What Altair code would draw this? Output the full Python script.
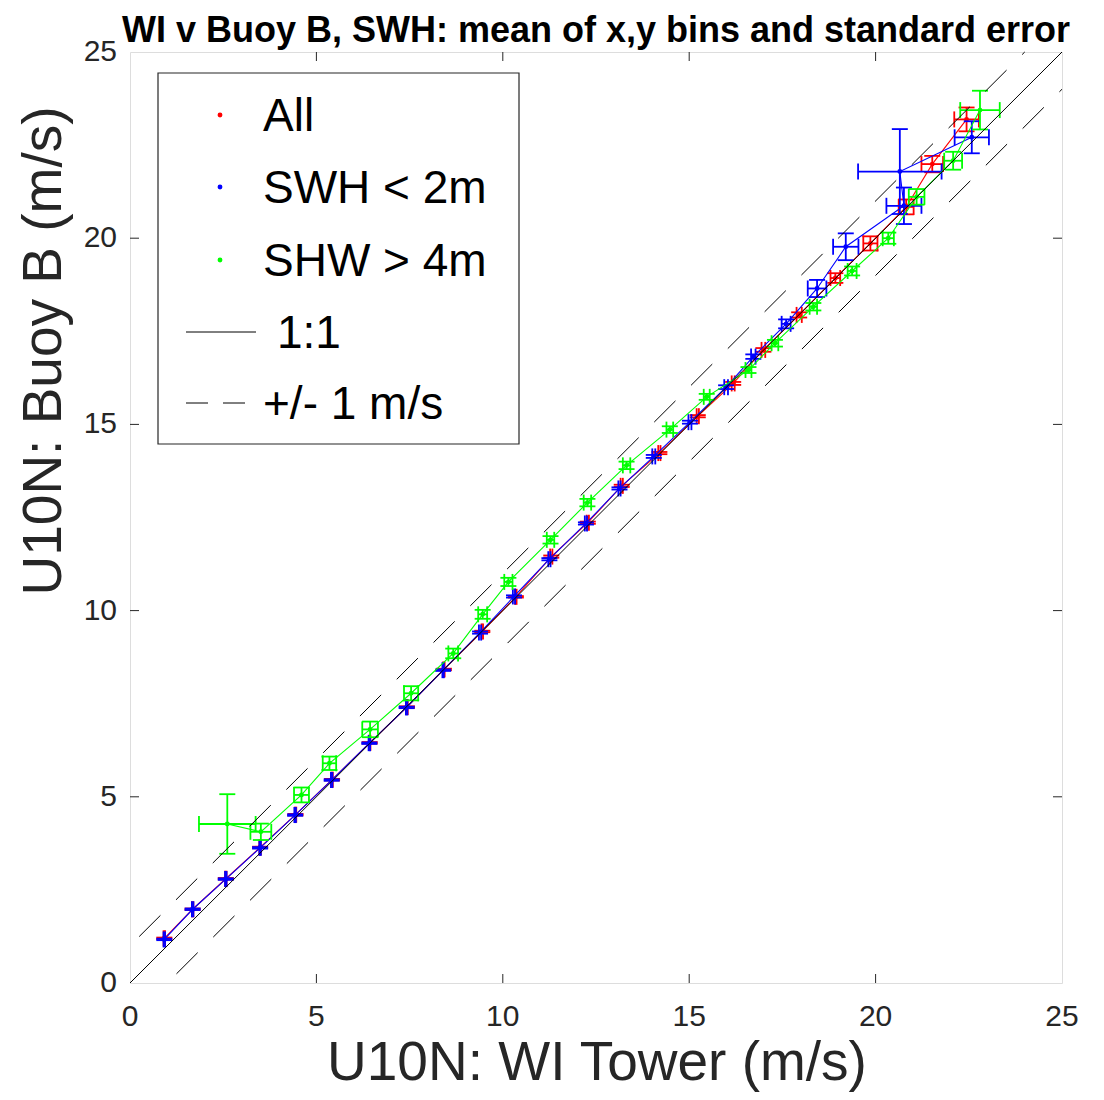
import altair as alt
import pandas as pd

# ---------------- data ----------------
tick_values = [0, 5, 10, 15, 20, 25]
tick_labels = ["0", "5", "10", "15", "20", "25"]
inner_ticks = [5, 10, 15, 20]

all_x = [0.92, 1.68, 2.57, 3.49, 4.44, 5.42, 6.43, 7.43, 8.42, 9.45, 10.35, 11.30,
         12.28, 13.19, 14.20, 15.23, 16.18, 16.99, 17.95, 18.92, 19.86, 20.82, 21.52, 22.44]
all_y = [1.20, 1.98, 2.80, 3.64, 4.52, 5.46, 6.45, 7.41, 8.42, 9.44, 10.37, 11.45,
         12.36, 13.35, 14.23, 15.22, 16.10, 17.00, 17.94, 18.93, 19.86, 20.84, 21.99, 23.19]
all_xe = [0.02, 0.02, 0.02, 0.02, 0.02, 0.02, 0.02, 0.02, 0.02, 0.02, 0.02, 0.03,
          0.03, 0.03, 0.03, 0.03, 0.04, 0.05, 0.07, 0.13, 0.19, 0.20, 0.29, 0.33]
all_ye = [0.02, 0.02, 0.02, 0.02, 0.02, 0.02, 0.02, 0.02, 0.02, 0.02, 0.02, 0.03,
          0.03, 0.03, 0.03, 0.03, 0.04, 0.05, 0.07, 0.13, 0.19, 0.20, 0.22, 0.32]

low_x = [0.92, 1.68, 2.57, 3.49, 4.43, 5.41, 6.42, 7.42, 8.40, 9.39, 10.30, 11.25,
         12.23, 13.13, 14.05, 15.02, 15.99, 16.72, 17.60, 18.43, 19.20, 20.76, 20.65, 22.58]
low_y = [1.17, 1.98, 2.79, 3.63, 4.51, 5.45, 6.44, 7.40, 8.40, 9.41, 10.38, 11.38,
         12.34, 13.28, 14.14, 15.06, 16.00, 16.82, 17.70, 18.65, 19.77, 20.87, 21.79, 22.71]
low_xe = [0.02, 0.02, 0.02, 0.02, 0.02, 0.02, 0.02, 0.02, 0.02, 0.03, 0.03, 0.03,
          0.03, 0.03, 0.04, 0.04, 0.05, 0.06, 0.12, 0.25, 0.34, 0.47, 1.12, 0.46]
low_ye = [0.02, 0.02, 0.02, 0.02, 0.02, 0.02, 0.02, 0.02, 0.02, 0.03, 0.03, 0.03,
          0.03, 0.03, 0.04, 0.04, 0.05, 0.06, 0.12, 0.23, 0.36, 0.49, 1.14, 0.43]

high_x = [2.61, 3.51, 4.60, 5.35, 6.44, 7.54, 8.67, 9.46, 10.15, 11.28, 12.27, 13.32,
          14.48, 15.47, 16.59, 17.30, 18.33, 19.37, 20.34, 21.10, 22.08, 22.80]
high_y = [4.27, 4.06, 5.05, 5.90, 6.81, 7.78, 8.85, 9.90, 10.77, 11.90, 12.90, 13.90,
          14.86, 15.74, 16.46, 17.18, 18.16, 19.12, 20.00, 21.11, 22.08, 23.44]
high_xe = [0.76, 0.28, 0.20, 0.18, 0.21, 0.19, 0.13, 0.12, 0.11, 0.10, 0.10, 0.10,
           0.09, 0.08, 0.08, 0.09, 0.10, 0.12, 0.15, 0.21, 0.24, 0.53]
high_ye = [0.80, 0.22, 0.20, 0.18, 0.21, 0.19, 0.13, 0.12, 0.11, 0.10, 0.10, 0.10,
           0.09, 0.08, 0.08, 0.09, 0.10, 0.12, 0.15, 0.21, 0.24, 0.52]

one_to_one_x = [0, 25]
one_to_one_y = [0, 25]
upper_x = [0, 24]
upper_y = [1, 25]
lower_x = [1, 25]
lower_y = [0, 24]

legend_labels = ["All", "SWH < 2m", "SHW > 4m", "1:1", "+/- 1 m/s"]
legend_colors = ["#ff0000", "#0000ff", "#00ff00"]

title_text = "WI v Buoy B, SWH: mean of x,y bins and standard error"
x_title = "U10N: WI Tower (m/s)"
y_title = "U10N: Buoy B (m/s)"

# ---------------- styling ----------------
FONT = "Liberation Sans"
AX = "#262626"
W, H = 932, 931
xscale = alt.Scale(domain=[0, 25], nice=False, zero=False)
yscale = alt.Scale(domain=[0, 25], nice=False, zero=False)


def X(field):
    return alt.X(field, type="quantitative", scale=xscale, axis=None, title=None)


def Y(field):
    return alt.Y(field, type="quantitative", scale=yscale, axis=None, title=None)


def series_layers(xs, ys, xes, yes, color):
    df = pd.DataFrame({"x": xs, "y": ys, "xe": xes, "ye": yes})
    df["i"] = range(len(df))
    df["xlo"] = df["x"] - df["xe"]
    df["xhi"] = df["x"] + df["xe"]
    df["ylo"] = df["y"] - df["ye"]
    df["yhi"] = df["y"] + df["ye"]
    base = alt.Chart(df)
    sw = 1.8
    line = base.mark_line(color=color, strokeWidth=1.1).encode(
        x=X("x"), y=Y("y"), order="i:Q")
    hbar = base.mark_rule(color=color, strokeWidth=sw).encode(
        x=X("xlo"), x2="xhi", y=Y("y"))
    vbar = base.mark_rule(color=color, strokeWidth=sw).encode(
        x=X("x"), y=Y("ylo"), y2="yhi")
    capl = base.mark_tick(orient="vertical", size=16, thickness=sw, color=color, opacity=1).encode(
        x=X("xlo"), y=Y("y"))
    capr = base.mark_tick(orient="vertical", size=16, thickness=sw, color=color, opacity=1).encode(
        x=X("xhi"), y=Y("y"))
    capb = base.mark_tick(orient="horizontal", size=16, thickness=sw, color=color, opacity=1).encode(
        x=X("x"), y=Y("ylo"))
    capt = base.mark_tick(orient="horizontal", size=16, thickness=sw, color=color, opacity=1).encode(
        x=X("x"), y=Y("yhi"))
    dots = base.mark_circle(size=24, color=color, opacity=1).encode(x=X("x"), y=Y("y"))
    return [line, hbar, vbar, capl, capr, capb, capt, dots]


# tick labels (MATLAB style axes drawn by hand)
lab_df = pd.DataFrame({"t": tick_values, "lab": tick_labels})
tick_text = [
    alt.Chart(lab_df).mark_text(font=FONT, fontSize=30, color=AX, align="center",
                                baseline="top").encode(
        x=X("t"), y=alt.value(H + 19), text="lab:N"),
    alt.Chart(lab_df).mark_text(font=FONT, fontSize=30, color=AX, align="right",
                                baseline="middle").encode(
        y=Y("t"), x=alt.value(-13), text="lab:N"),
]

# inward ticks on all four sides
tdf = pd.DataFrame({"t": inner_ticks})
tk = dict(color=AX, strokeWidth=1)
ticks = [
    alt.Chart(tdf).mark_rule(**tk).encode(x=X("t"), y=alt.value(H), y2=alt.value(H - 9)),
    alt.Chart(tdf).mark_rule(**tk).encode(x=X("t"), y=alt.value(0), y2=alt.value(9)),
    alt.Chart(tdf).mark_rule(**tk).encode(y=Y("t"), x=alt.value(0), x2=alt.value(9)),
    alt.Chart(tdf).mark_rule(**tk).encode(y=Y("t"), x=alt.value(W), x2=alt.value(W - 9)),
]

# reference lines
ref_solid = alt.Chart(pd.DataFrame({"x": one_to_one_x, "y": one_to_one_y})).mark_line(
    color="black", strokeWidth=1).encode(x=X("x"), y=Y("y"))
ref_up = alt.Chart(pd.DataFrame({"x": upper_x, "y": upper_y})).mark_line(
    color="black", strokeWidth=1, strokeDash=[30, 22], strokeDashOffset=39).encode(x=X("x"), y=Y("y"))
ref_lo = alt.Chart(pd.DataFrame({"x": lower_x, "y": lower_y})).mark_line(
    color="black", strokeWidth=1, strokeDash=[30, 22], strokeDashOffset=39).encode(x=X("x"), y=Y("y"))

# legend (drawn by hand, MATLAB style)
one = pd.DataFrame({"a": [0]})
legend = [alt.Chart(one).mark_rect(fill="white", stroke=AX, strokeWidth=1.2).encode(
    x=alt.value(28), x2=alt.value(389), y=alt.value(21), y2=alt.value(392))]
row_y = [63, 135, 208, 280, 351]
for k in range(3):
    legend.append(alt.Chart(one).mark_circle(size=24, color=legend_colors[k], opacity=1).encode(
        x=alt.value(90), y=alt.value(row_y[k])))
for k in range(5):
    legend.append(alt.Chart(one).mark_text(
        text=legend_labels[k], font=FONT, fontSize=46, align="left", baseline="middle",
        color="black").encode(x=alt.value(147 if k == 3 else 133), y=alt.value(row_y[k] + 2)))
legend.append(alt.Chart(one).mark_rule(color="black", strokeWidth=1).encode(
    x=alt.value(56), x2=alt.value(126), y=alt.value(row_y[3])))
legend.append(alt.Chart(one).mark_rule(color="black", strokeWidth=1, strokeDash=[22, 15]).encode(
    x=alt.value(56), x2=alt.value(116), y=alt.value(row_y[4])))

# titles
texts = [
    alt.Chart(one).mark_text(text=title_text, font=FONT, fontSize=36, fontWeight="bold",
                             align="center", baseline="alphabetic", color="black").encode(
        x=alt.value(466), y=alt.value(-10)),
    alt.Chart(one).mark_text(text=x_title, font=FONT, fontSize=55, align="center",
                             baseline="alphabetic", color=AX).encode(
        x=alt.value(467), y=alt.value(1028)),
    alt.Chart(one).mark_text(text=y_title, font=FONT, fontSize=55, align="center",
                             baseline="middle", angle=270, color=AX).encode(
        x=alt.value(-86), y=alt.value(299)),
]

layers = ticks + tick_text
layers += series_layers(all_x, all_y, all_xe, all_ye, "#ff0000")
layers += series_layers(low_x, low_y, low_xe, low_ye, "#0000ff")
layers += series_layers(high_x, high_y, high_xe, high_ye, "#00ff00")
layers += [ref_solid, ref_up, ref_lo]
layers += legend + texts

chart = alt.layer(*layers).properties(
    width=W, height=H,
    padding={"left": 122, "top": 44, "right": 34, "bottom": 109},
    autosize=alt.AutoSizeParams(type="none"),
).configure_view(stroke=AX, strokeWidth=1.2).configure(font=FONT)

chart.save("out.html", embed_options={"renderer": "svg", "actions": False})
